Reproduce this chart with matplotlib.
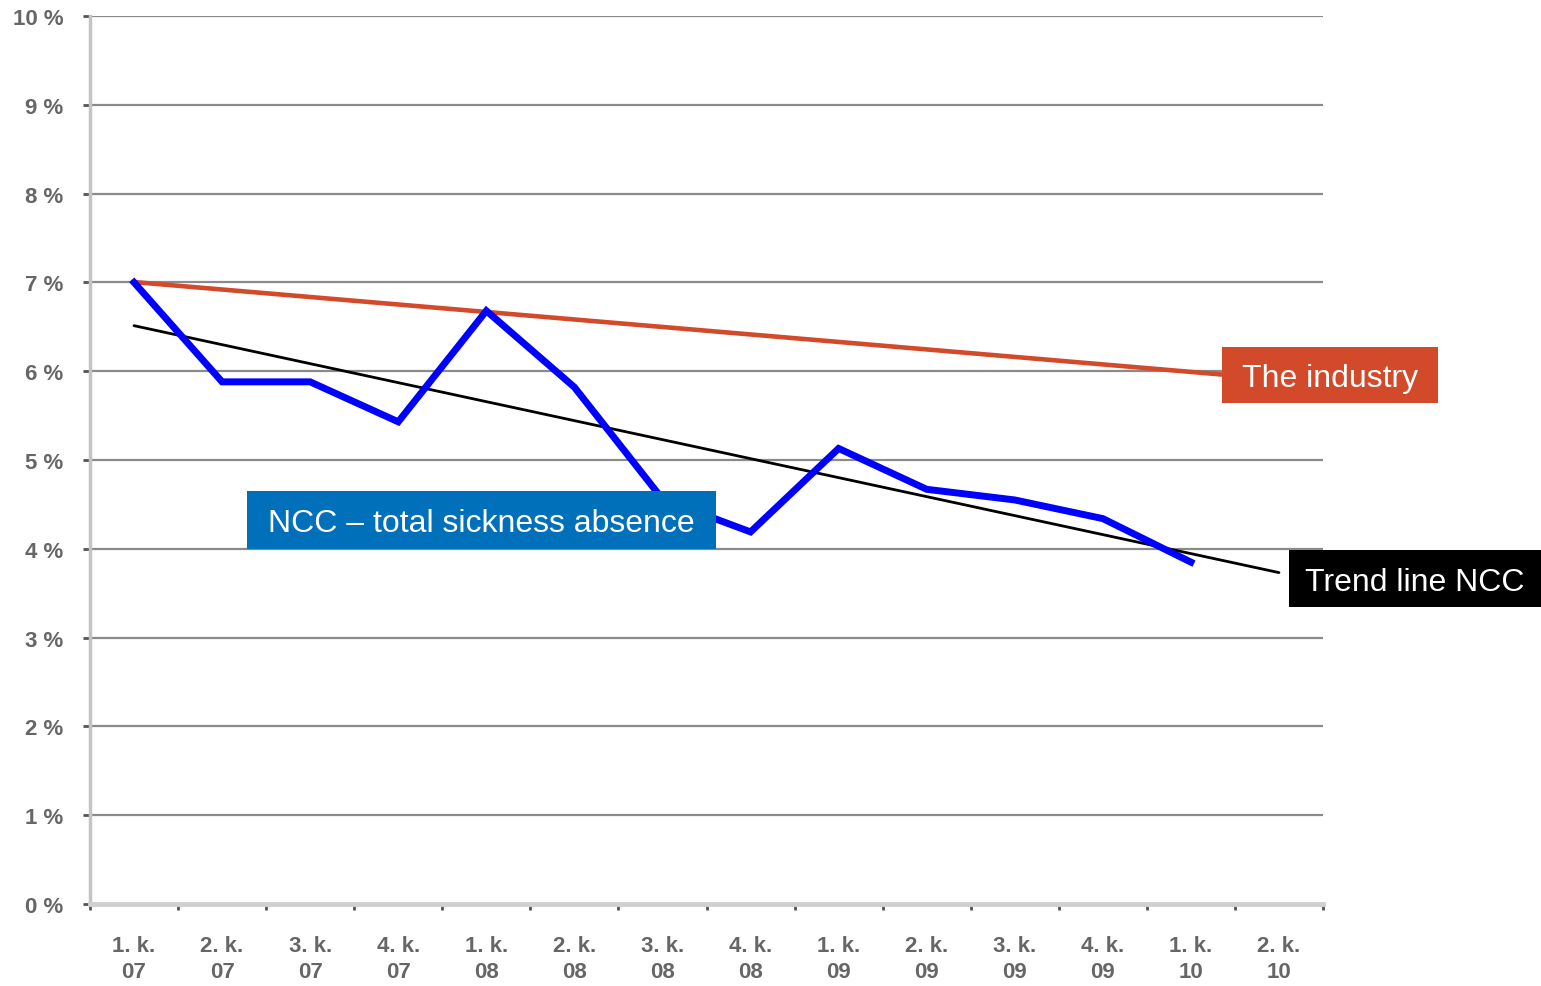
import matplotlib
matplotlib.use("Agg")
import matplotlib.pyplot as plt
from matplotlib.patches import Rectangle
import numpy as np

categories = ["1. k.\n07", "2. k.\n07", "3. k.\n07", "4. k.\n07",
              "1. k.\n08", "2. k.\n08", "3. k.\n08", "4. k.\n08",
              "1. k.\n09", "2. k.\n09", "3. k.\n09", "4. k.\n09",
              "1. k.\n10", "2. k.\n10"]
ncc_total = [7.0, 5.88, 5.88, 5.43, 6.68, 5.82, 4.56, 4.19, 5.13, 4.67, 4.55, 4.34, 3.85]
industry_x = [0.05, 12.5]
industry_y = [7.0, 5.95]
y_ticks = list(range(0, 11))
y_labels = [f"{v} %" for v in y_ticks]

W, H = 1541, 987
fig = plt.figure(figsize=(W / 100, H / 100), dpi=100)
ax = fig.add_axes([90 / W, 1 - 905 / H, (1323 - 90) / W, (905 - 17) / H])

x = np.arange(len(categories))
xn = np.arange(len(ncc_total))

# trend line from linear fit
coef = np.polyfit(xn, ncc_total, 1)
xt = np.array([0, len(categories) - 1])
ax.plot(xt, np.polyval(coef, xt), color="black", lw=2.0, zorder=3, solid_capstyle="round")

ax.plot(industry_x, industry_y, color="#D24A2A", lw=3.3, zorder=4)
ax.plot(xn, ncc_total, color="#0000FF", lw=5, zorder=5, solid_joinstyle="miter")

ax.set_xlim(-0.5, len(categories) - 0.5)
ax.set_ylim(0, 10)
ax.set_yticks(y_ticks)
ax.set_yticklabels(y_labels, fontsize=16, fontweight="bold", color="#666666",
                   family="Liberation Sans")
ax.set_xticks(x)
ax.set_xticklabels(categories, fontsize=16, fontweight="bold", color="#666666",
                   family="Liberation Sans", linespacing=1.35)
ax.set_xticks(np.arange(-0.5, len(categories), 1.0), minor=True)
ax.tick_params(axis="x", which="major", length=0, pad=22)
ax.tick_params(axis="x", which="minor", length=4, width=2, color="#555555", direction="out")
ax.tick_params(axis="y", length=5, width=2, color="#555555", pad=14)

for v in y_ticks[1:]:
    ax.axhline(v, color="#8a8a8a", lw=1.6, zorder=1)

for s in ["top", "right"]:
    ax.spines[s].set_visible(False)
ax.spines["left"].set_color("#c4c4c4")
ax.spines["left"].set_linewidth(2.5)
ax.spines["bottom"].set_color("#d0d0d0")
ax.spines["bottom"].set_linewidth(3.5)

def label_box(x0, y0, x1, y1, color, text):
    fig.patches.append(Rectangle((x0 / W, 1 - y1 / H), (x1 - x0) / W, (y1 - y0) / H,
                                 transform=fig.transFigure, facecolor=color,
                                 edgecolor="none", zorder=10))
    fig.text((x0 + x1) / 2 / W, 1 - (y0 + y1) / 2 / H, text, color="white",
             fontsize=23, family="Liberation Sans", ha="center", va="center_baseline",
             zorder=11)

label_box(1222, 348, 1438, 404, "#D24A2A", "The industry")
label_box(247, 492, 716, 550, "#0070BA", "NCC – total sickness absence")
label_box(1289, 551, 1541, 608, "#000000", "Trend line NCC")

fig.savefig("out.png", dpi=100)
